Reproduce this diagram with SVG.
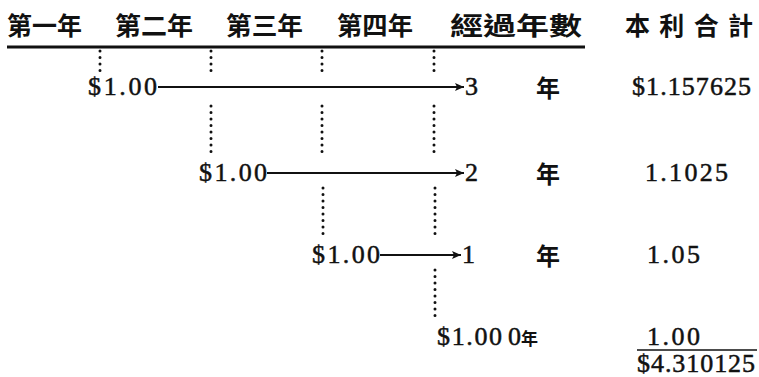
<svg xmlns="http://www.w3.org/2000/svg" width="759" height="377" viewBox="0 0 759 377">
<defs>
<style>
.hd{font-family:"Noto Sans CJK TC","Noto Sans CJK SC",sans-serif;font-weight:700;font-size:25px;fill:#111}
.cj{font-family:"Noto Sans CJK TC","Noto Sans CJK SC",sans-serif;font-weight:700;font-size:24px;fill:#111}
.nm{font-family:"Liberation Serif","DejaVu Serif",serif;font-size:26px;fill:#111;stroke:#111;stroke-width:0.5}
.dot{stroke:#111;stroke-width:3;stroke-linecap:round;stroke-dasharray:0 6.5;fill:none}
.arr{stroke:#111;stroke-width:1.8;fill:none}
.rule{stroke:#111;fill:none}
</style>
<marker id="ah" markerWidth="11" markerHeight="10" refX="10" refY="5" orient="auto" markerUnits="userSpaceOnUse">
<path d="M1,1 L10,5 L1,9 L3,5 Z" fill="#111"/>
</marker>
</defs>
<rect width="759" height="377" fill="#fff"/>
<g id="header">
<text class="hd" x="7" y="35" textLength="75" lengthAdjust="spacingAndGlyphs">第一年</text>
<text class="hd" x="115" y="35" textLength="78" lengthAdjust="spacingAndGlyphs">第二年</text>
<text class="hd" x="226" y="35" textLength="77" lengthAdjust="spacingAndGlyphs">第三年</text>
<text class="hd" x="337" y="35" textLength="76" lengthAdjust="spacingAndGlyphs">第四年</text>
<text class="hd" x="450" y="35" textLength="132" lengthAdjust="spacingAndGlyphs">經過年數</text>
<text class="hd" x="625" y="35" textLength="128" lengthAdjust="spacing">本利合計</text>
<line class="rule" x1="7" y1="47" x2="585" y2="47" stroke-width="3"/>
</g>
<g id="connectors">
<line class="dot" x1="100" y1="51" x2="100" y2="73"/>
<line class="dot" x1="211" y1="51" x2="211" y2="73"/>
<line class="dot" x1="322" y1="51" x2="322" y2="73"/>
<line class="dot" x1="434" y1="51" x2="434" y2="73"/>
<line class="dot" x1="211" y1="106" x2="211" y2="155"/>
<line class="dot" x1="322" y1="106" x2="322" y2="155"/>
<line class="dot" x1="434" y1="106" x2="434" y2="155"/>
<line class="dot" x1="323" y1="188" x2="323" y2="238"/>
<line class="dot" x1="435" y1="188" x2="435" y2="238"/>
<line class="dot" x1="435" y1="270" x2="435" y2="320"/>
<line class="arr" x1="158" y1="87" x2="464" y2="87" marker-end="url(#ah)"/>
<line class="arr" x1="267" y1="173" x2="464" y2="173" marker-end="url(#ah)"/>
<line class="arr" x1="380" y1="255" x2="461" y2="255" marker-end="url(#ah)"/>
<line class="rule" x1="637" y1="350" x2="757" y2="350" stroke-width="1.5"/>
</g>
<g id="row1">
<text class="nm" x="88" y="95" textLength="69" lengthAdjust="spacing">$1.00</text>
<text class="nm" x="465" y="95">3</text>
<text class="cj" x="536" y="97">年</text>
<text class="nm" x="632" y="95" textLength="119" lengthAdjust="spacing">$1.157625</text>
</g>
<g id="row2">
<text class="nm" x="199" y="181" textLength="68" lengthAdjust="spacing">$1.00</text>
<text class="nm" x="465" y="181">2</text>
<text class="cj" x="536" y="183">年</text>
<text class="nm" x="645" y="181" textLength="83" lengthAdjust="spacing">1.1025</text>
</g>
<g id="row3">
<text class="nm" x="312" y="263" textLength="68" lengthAdjust="spacing">$1.00</text>
<text class="nm" x="462" y="263">1</text>
<text class="cj" x="536" y="265">年</text>
<text class="nm" x="647" y="263" textLength="53" lengthAdjust="spacing">1.05</text>
</g>
<g id="row4">
<text class="nm" x="437" y="345" textLength="65" lengthAdjust="spacing">$1.00</text>
<text class="nm" x="508" y="345">0</text>
<text class="cj" x="521" y="345" style="font-size:17px">年</text>
<text class="nm" x="647" y="345" textLength="53" lengthAdjust="spacing">1.00</text>
<text class="nm" x="637" y="372" textLength="118" lengthAdjust="spacing">$4.310125</text>
</g>
</svg>
